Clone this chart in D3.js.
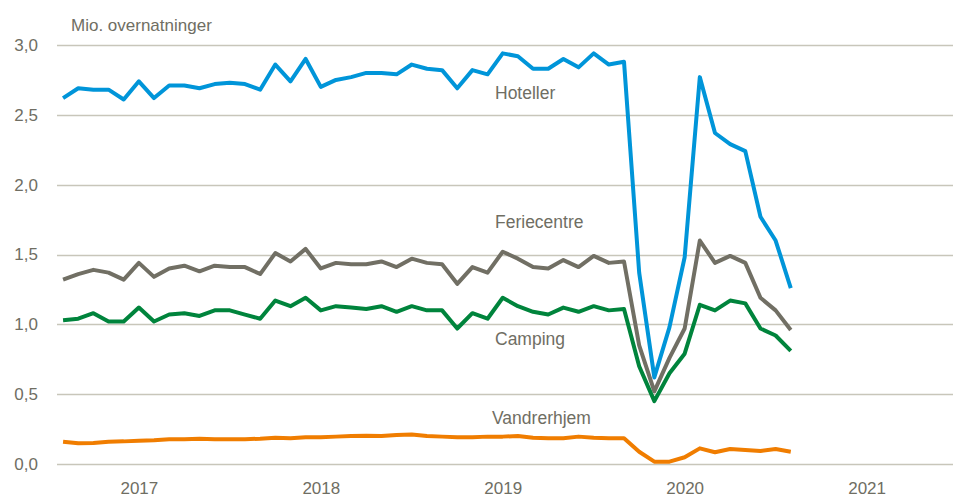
<!doctype html>
<html>
<head>
<meta charset="utf-8"/>
<title>Overnatninger</title>
<script src="https://d3js.org/d3.v7.min.js"></script>
<style>
body { margin:0; background:#fff; }
text { font-family:"Liberation Sans", Arial, sans-serif; fill:#6f6e63; }
</style>
</head>
<body>
<script type="text/javascript">
// maaneder jan 2017 - jan 2021 (indeks 0..48)
var hoteller = [2.62,2.69,2.68,2.68,2.61,2.74,2.62,2.71,2.71,2.69,2.72,2.73,2.72,2.68,2.86,2.74,2.90,2.70,2.75,2.77,
  2.80,2.80,2.79,2.86,2.83,2.82,2.69,2.82,2.79,2.94,2.92,2.83,2.83,2.90,2.84,2.94,2.86,2.88,1.37,0.62,0.98,1.48,
  2.77,2.37,2.29,2.24,1.77,1.60,1.26];
var feriecentre = [1.32,1.36,1.39,1.37,1.32,1.44,1.34,1.40,1.42,1.38,1.42,1.41,1.41,1.36,1.51,1.45,1.54,1.40,1.44,1.43,
  1.43,1.45,1.41,1.47,1.44,1.43,1.29,1.41,1.37,1.52,1.47,1.41,1.40,1.46,1.41,1.49,1.44,1.45,0.85,0.52,0.76,0.97,
  1.60,1.44,1.49,1.44,1.19,1.10,0.96];
var camping = [1.03,1.04,1.08,1.02,1.02,1.12,1.02,1.07,1.08,1.06,1.10,1.10,1.07,1.04,1.17,1.13,1.19,1.10,1.13,1.12,
  1.11,1.13,1.09,1.13,1.10,1.10,0.97,1.08,1.04,1.19,1.13,1.09,1.07,1.12,1.09,1.13,1.10,1.11,0.70,0.45,0.65,0.79,
  1.14,1.10,1.17,1.15,0.97,0.92,0.81];
var vandrerhjem = [0.160,0.148,0.150,0.160,0.162,0.167,0.170,0.177,0.178,0.181,0.177,0.177,0.178,0.181,0.188,0.184,0.191,0.191,0.196,0.200,
  0.202,0.200,0.208,0.212,0.200,0.196,0.191,0.191,0.196,0.196,0.200,0.188,0.184,0.184,0.196,0.188,0.184,0.184,0.088,0.017,0.017,0.048,
  0.112,0.084,0.107,0.100,0.093,0.107,0.088];

var serier = ["Hoteller","Feriecentre","Camping","Vandrerhjem"];
var farver = ["#0095d9","#716f64","#00843c","#f07d00"];
var labelPos = [[495,99],[495,228],[495,345],[492,424]];
var aarTekst = ["2017","2018","2019","2020","2021"];
var aarIndeks = [5,17,29,41,53];
var yTicks = [0,0.5,1,1.5,2,2.5,3];

var data = [hoteller, feriecentre, camping, vandrerhjem];

var svg = d3.select("body").append("svg")
  .attr("width", 953)
  .attr("height", 500);

var x = d3.scaleLinear().domain([-0.4, 58.7]).range([57, 953]);
var y = d3.scaleLinear().domain([0, 3]).range([464, 45]);

// gitterlinjer
svg.append("g").selectAll("line")
  .data(yTicks).enter().append("line")
  .attr("x1", 57).attr("x2", 953)
  .attr("y1", function(d){ return Math.round(y(d)) + 0.5; })
  .attr("y2", function(d){ return Math.round(y(d)) + 0.5; })
  .attr("stroke", "#c8c6ba")
  .attr("stroke-width", 1.3);

// y-akse
var yAx = svg.append("g")
  .attr("transform", "translate(38,0)")
  .call(d3.axisLeft(y).tickValues(yTicks).tickSize(0)
    .tickFormat(function(d){ return d3.format(".1f")(d).replace(".", ","); }));
yAx.select(".domain").remove();
yAx.selectAll("text").attr("x", 0).style("font-size", "17px").attr("fill", "#6f6e63")
  .style("font-family", "Liberation Sans, Arial, sans-serif");

// x-akse
var xAx = svg.append("g")
  .attr("transform", "translate(0,478)")
  .call(d3.axisBottom(x).tickValues(aarIndeks).tickSize(0)
    .tickFormat(function(d,i){ return aarTekst[i]; }));
xAx.select(".domain").remove();
xAx.selectAll("text").attr("y", 4).style("font-size", "17px").attr("fill", "#6f6e63")
  .style("font-family", "Liberation Sans, Arial, sans-serif");

// linjer
var line = d3.line()
  .x(function(d,i){ return x(i); })
  .y(function(d){ return y(d); });

svg.append("g").selectAll("path")
  .data(data).enter().append("path")
  .attr("d", line)
  .attr("fill", "none")
  .attr("stroke", function(d,i){ return farver[i]; })
  .attr("stroke-width", 4)
  .attr("stroke-linejoin", "round");

// tekster
svg.selectAll("text.serie")
  .data(serier).enter().append("text")
  .attr("class", "serie")
  .attr("x", function(d,i){ return labelPos[i][0]; })
  .attr("y", function(d,i){ return labelPos[i][1]; })
  .style("font-size", "17.5px")
  .text(function(d){ return d; });

svg.append("text")
  .attr("x", 71)
  .attr("y", 31)
  .style("font-size", "17px")
  .text("Mio. overnatninger");
</script>
</body>
</html>
